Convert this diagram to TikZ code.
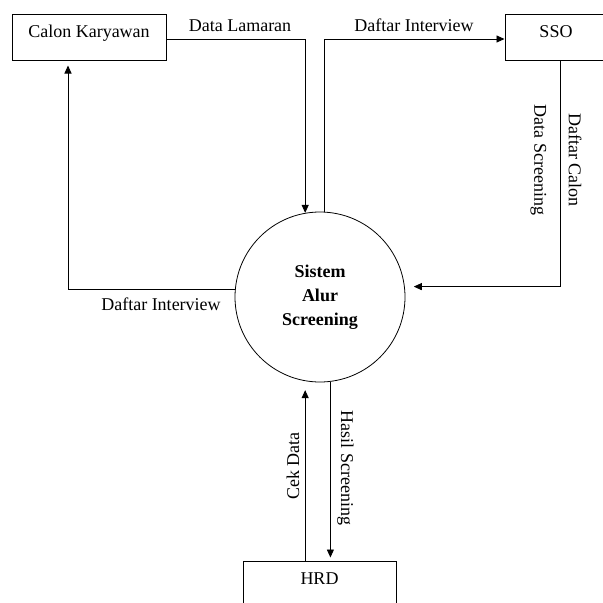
\documentclass[tikz,border=0pt]{standalone}
\usepackage{fontspec}
\setmainfont{Liberation Serif}
\usetikzlibrary{arrows.meta}

\tikzset{
  entity/.style={draw, line width=1pt, inner sep=0pt, text height=23pt, text depth=23pt},
  flow/.style={line width=0.9pt, -{Triangle[length=8pt,width=7pt]}},
}

\begin{document}
\begin{tikzpicture}[x=1pt, y=-1pt]
\fontsize{18}{24}\selectfont
\useasboundingbox (0,0) rectangle (603,603);
%\draw[help lines, step=50] (0,0) grid (603,603);
\node [entity, minimum width=154pt] (calon) at (89, 37) {Calon Karyawan};
\node [entity, minimum width=102pt] (sso) at (556, 37) {SSO};
\node [entity, minimum width=153pt] (hrd) at (319.5, 584) {HRD};
\node [draw, circle, line width=0.8pt, minimum size=170pt, inner sep=0pt, align=center, font=\bfseries] (proc) at (320, 297) {Sistem\\Alur\\Screening};

\draw [flow] ([yshift=-2pt]calon.east) -| (proc.100);
\node [anchor=base] (lblLamaran) at (240, 31.5) {Data Lamaran};
\draw [flow] (proc.87) |- ([yshift=-2pt]sso.west);
\node [anchor=base] (lblInterviewA) at (414, 31.5) {Daftar Interview};
\draw [flow, shorten >=9pt] ([xshift=4pt]sso.south) |- (proc.7);
\node [rotate=-90] (lblCalon) at (575, 160) {Daftar Calon};
\node [rotate=-90] (lblScreening) at (538.5, 160) {Data Screening};
\draw [flow, shorten >=5pt] (proc.175) -| ([xshift=-21pt]calon.south);
\node [anchor=base] (lblInterviewB) at (161, 310) {Daftar Interview};
\draw [flow, shorten >=9pt] (proc.260 |- hrd.north) -- (proc.260);
\node [rotate=90] (lblCek) at (293, 466) {Cek Data};
\draw [flow, shorten >=3pt] (proc.277) -- (proc.277 |- hrd.north);
\node [rotate=-90] (lblHasil) at (345.5, 468) {Hasil Screening};
\end{tikzpicture}
\end{document}
